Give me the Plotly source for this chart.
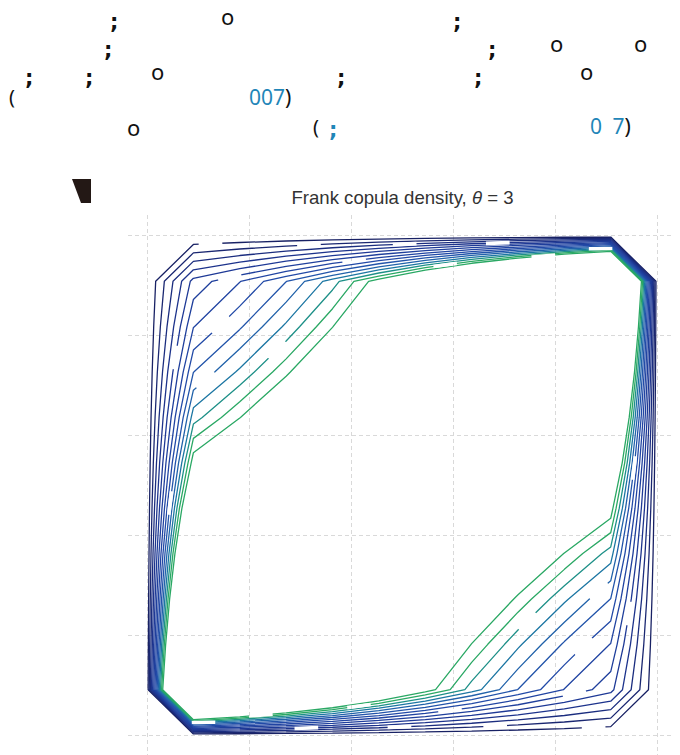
import plotly.graph_objects as go

# ---------------- data ----------------
u_grid = [0.0, 0.0909, 0.1818, 0.2727, 0.3636, 0.4545, 0.5455, 0.6364, 0.7273, 0.8182, 0.9091, 1.0]
v_grid = [0.0, 0.0909, 0.1818, 0.2727, 0.3636, 0.4545, 0.5455, 0.6364, 0.7273, 0.8182, 0.9091, 1.0]

density = [
    [0, 0, 0, 0, 0, 0, 0, 0, 0, 0, 0, 0],
    [0, 2.071, 1.741, 1.435, 1.163, 0.930, 0.735, 0.577, 0.449, 0.348, 0.268, 0],
    [0, 1.741, 1.601, 1.425, 1.233, 1.040, 0.860, 0.698, 0.560, 0.443, 0.348, 0],
    [0, 1.435, 1.425, 1.363, 1.260, 1.127, 0.979, 0.829, 0.687, 0.560, 0.449, 0],
    [0, 1.163, 1.233, 1.260, 1.241, 1.178, 1.080, 0.960, 0.829, 0.698, 0.577, 0],
    [0, 0.930, 1.040, 1.127, 1.178, 1.187, 1.153, 1.080, 0.979, 0.860, 0.735, 0],
    [0, 0.735, 0.860, 0.979, 1.080, 1.153, 1.187, 1.178, 1.127, 1.040, 0.930, 0],
    [0, 0.577, 0.698, 0.829, 0.960, 1.080, 1.178, 1.241, 1.260, 1.233, 1.163, 0],
    [0, 0.449, 0.560, 0.687, 0.829, 0.979, 1.127, 1.260, 1.363, 1.425, 1.435, 0],
    [0, 0.348, 0.443, 0.560, 0.698, 0.860, 1.040, 1.233, 1.425, 1.601, 1.741, 0],
    [0, 0.268, 0.348, 0.449, 0.577, 0.735, 0.930, 1.163, 1.435, 1.741, 2.071, 0],
    [0, 0, 0, 0, 0, 0, 0, 0, 0, 0, 0, 0],
]

level_start = 0.05
level_end = 0.70
level_step = 0.05

title_text = "Frank copula density, <i>θ</i> = 3"

# stray glyphs in the header block: (page x px, page y px, text, kind)
glyph_x = [114, 227, 457, 108, 492, 556, 640, 29, 89, 157, 341, 478, 586, 12, 270, 133, 316, 333, 610]
glyph_y = [22, 16, 22, 50, 50, 43, 43, 78, 78, 71, 78, 78, 71, 97, 97, 127, 127, 130, 126]
glyph_t = [";", "o", ";", ";", ";", "o", "o", ";", ";", "o", ";", ";", "o", "(",
           "007<span style='color:#111111'>)</span>", "o", "(", ";",
           "0\u20027<span style='color:#111111'>)</span>"]
glyph_k = ["s", "o", "s", "s", "s", "o", "o", "s", "s", "o", "s", "s", "o", "p", "b", "o", "p", "sb", "b"]

# ---------------- layout geometry ----------------
OFF = 8  # page body margin
W, H = 680, 755
ML, MR, MT, MB = 120, 11, 207, 0
PW, PH = W - ML - MR, H - MT - MB


def px(x):
    return (x - OFF - ML) / PW


def py(y):
    return (H - MB - (y - OFF)) / PH


colorscale = [
    [0.0, "rgb(24,33,100)"],
    [0.3, "rgb(30,55,148)"],
    [0.62, "rgb(34,76,170)"],
    [0.75, "rgb(33,98,170)"],
    [0.84, "rgb(28,120,162)"],
    [0.92, "rgb(30,145,135)"],
    [1.0, "rgb(42,168,100)"],
]

fig = go.Figure(
    go.Contour(
        x=u_grid,
        y=v_grid,
        z=density,
        colorscale=colorscale,
        zauto=False,
        zmin=level_start,
        zmax=level_end,
        showscale=False,
        contours=dict(
            start=level_start,
            end=level_end + 1e-6,
            size=level_step,
            coloring="lines",
            showlabels=True,
            labelformat=".8f",
            labelfont=dict(size=4, color="rgba(0,0,0,0)"),
        ),
        line=dict(width=1.3, smoothing=0),
        hoverinfo="skip",
    )
)

styles = {
    "s": dict(family="DejaVu Sans", size=21, color="#111111", bold=True),
    "sb": dict(family="DejaVu Sans", size=21, color="#1f86b8", bold=True),
    "o": dict(family="Noto Sans", size=22, color="#111111", bold=False),
    "p": dict(family="Noto Sans", size=20, color="#111111", bold=False),
    "b": dict(family="Noto Sans", size=21, color="#1f86b8", bold=False),
}

annotations = []
for gx, gy, gt, gk in zip(glyph_x, glyph_y, glyph_t, glyph_k):
    st = styles[gk]
    txt = f"<b>{gt}</b>" if st["bold"] else gt
    annotations.append(
        dict(
            x=px(gx), y=py(gy), xref="paper", yref="paper",
            text=txt, showarrow=False, xanchor="center", yanchor="middle",
            font=dict(family=st["family"], size=st["size"], color=st["color"]),
        )
    )

fig.update_layout(
    width=W, height=H,
    margin=dict(l=ML, r=MR, t=MT, b=MB, pad=0),
    paper_bgcolor="white", plot_bgcolor="white",
    title=dict(text=title_text, x=0.5, xref="paper", y=1 - (197 - OFF) / H, yref="container",
               xanchor="center", yanchor="middle",
               font=dict(family="Liberation Sans, Arial", size=18.6, color="#333333")),
    xaxis=dict(range=[-0.0373, 1.039], dtick=0.2, tick0=0, showgrid=True,
               gridcolor="#d9d9d9", griddash="4px,3px", gridwidth=1,
               zeroline=False, showline=False, showticklabels=False, ticks=""),
    yaxis=dict(range=[-0.056, 1.042], dtick=0.2, tick0=0, showgrid=True,
               gridcolor="#d9d9d9", griddash="4px,3px", gridwidth=1,
               zeroline=False, showline=False, showticklabels=False, ticks=""),
    annotations=annotations,
    shapes=[dict(type="path", xref="paper", yref="paper",
                 path=f"M {px(72)},{py(179)} L {px(91)},{py(179)} L {px(91)},{py(203)} L {px(81)},{py(203)} Z",
                 fillcolor="#231815", line=dict(width=0))],
    showlegend=False,
)

fig.write_html("out.html")
